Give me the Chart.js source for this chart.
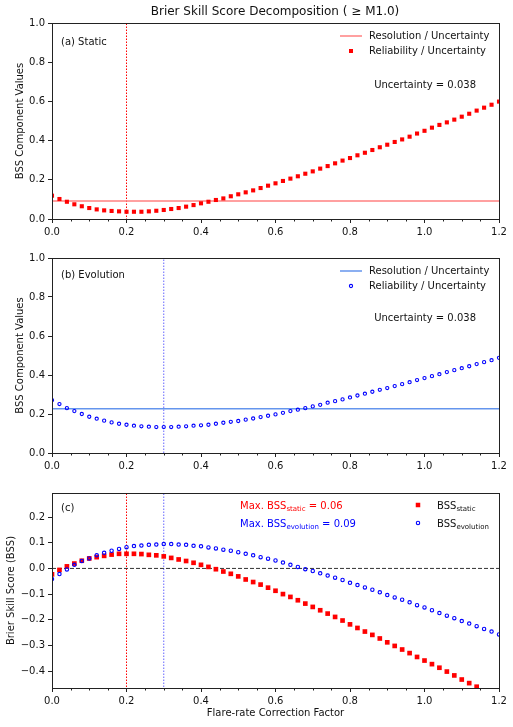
<!DOCTYPE html>
<html>
<head>
<meta charset="utf-8">
<title>Brier Skill Score Decomposition</title>
<script src="https://cdn.jsdelivr.net/npm/chart.js@4.4.1/dist/chart.umd.min.js"></script>
<style>
  body { margin: 0; background: #fff; }
  #wrap { position: relative; width: 513px; height: 727px; }
  canvas { position: absolute; left: 0; }
</style>
</head>
<body>
<div id="wrap">
  <canvas id="panelA" width="513" height="240" style="top:0px"></canvas>
  <canvas id="panelB" width="513" height="235" style="top:240px"></canvas>
  <canvas id="panelC" width="513" height="252" style="top:475px"></canvas>
</div>
<script>
// flare-rate correction factor (x)
var factor = [
  0.00, 0.02, 0.04, 0.06, 0.08, 0.10, 0.12, 0.14, 0.16, 0.18,
  0.20, 0.22, 0.24, 0.26, 0.28, 0.30, 0.32, 0.34, 0.36, 0.38,
  0.40, 0.42, 0.44, 0.46, 0.48, 0.50, 0.52, 0.54, 0.56, 0.58,
  0.60, 0.62, 0.64, 0.66, 0.68, 0.70, 0.72, 0.74, 0.76, 0.78,
  0.80, 0.82, 0.84, 0.86, 0.88, 0.90, 0.92, 0.94, 0.96, 0.98,
  1.00, 1.02, 1.04, 1.06, 1.08, 1.10, 1.12, 1.14, 1.16, 1.18,
  1.20
];

// reliability / uncertainty
var relStatic = [
  0.119, 0.102, 0.088, 0.075, 0.065, 0.056, 0.049, 0.044, 0.041, 0.039,
  0.037, 0.037, 0.037, 0.039, 0.042, 0.046, 0.051, 0.056, 0.063, 0.071,
  0.080, 0.088, 0.097, 0.105, 0.116, 0.126, 0.136, 0.146, 0.158, 0.170,
  0.182, 0.194, 0.206, 0.218, 0.231, 0.243, 0.257, 0.270, 0.284, 0.298,
  0.311, 0.325, 0.338, 0.352, 0.366, 0.379, 0.393, 0.406, 0.420, 0.436,
  0.450, 0.466, 0.480, 0.493, 0.507, 0.522, 0.537, 0.553, 0.568, 0.583,
  0.599
];
var relEvolution = [
  0.271, 0.251, 0.230, 0.215, 0.200, 0.186, 0.176, 0.166, 0.157, 0.150,
  0.145, 0.140, 0.137, 0.135, 0.133, 0.133, 0.133, 0.135, 0.137, 0.140,
  0.142, 0.145, 0.150, 0.155, 0.160, 0.164, 0.171, 0.177, 0.184, 0.191,
  0.198, 0.206, 0.215, 0.222, 0.230, 0.239, 0.247, 0.258, 0.266, 0.275,
  0.285, 0.295, 0.304, 0.314, 0.324, 0.333, 0.343, 0.353, 0.363, 0.374,
  0.384, 0.394, 0.404, 0.415, 0.425, 0.435, 0.445, 0.456, 0.466, 0.476,
  0.488
];

// resolution / uncertainty (constant)
var resStatic = 0.092;
var resEvolution = 0.227;

// brier skill score
var bssStatic = [
  -0.023, -0.006, 0.008, 0.019, 0.030, 0.039, 0.044, 0.049, 0.054, 0.057,
  0.057, 0.057, 0.056, 0.053, 0.051, 0.047, 0.041, 0.035, 0.029, 0.022,
  0.014, 0.006, -0.003, -0.012, -0.021, -0.031, -0.043, -0.053, -0.063, -0.075,
  -0.087, -0.100, -0.111, -0.124, -0.137, -0.150, -0.163, -0.176, -0.189, -0.203,
  -0.218, -0.232, -0.246, -0.259, -0.273, -0.288, -0.302, -0.316, -0.330, -0.345,
  -0.359, -0.373, -0.387, -0.402, -0.417, -0.433, -0.447, -0.461, -0.476, -0.491,
  -0.506
];
var bssEvolution = [
  -0.041, -0.022, -0.004, 0.014, 0.029, 0.039, 0.051, 0.061, 0.069, 0.076,
  0.083, 0.087, 0.089, 0.092, 0.093, 0.095, 0.095, 0.093, 0.092, 0.088,
  0.086, 0.082, 0.078, 0.073, 0.069, 0.063, 0.057, 0.051, 0.044, 0.038,
  0.031, 0.023, 0.014, 0.006, -0.003, -0.010, -0.019, -0.028, -0.036, -0.045,
  -0.056, -0.065, -0.074, -0.083, -0.093, -0.104, -0.113, -0.122, -0.132, -0.143,
  -0.152, -0.163, -0.174, -0.184, -0.194, -0.205, -0.215, -0.225, -0.236, -0.246,
  -0.257
];

var bestStatic = 0.2;
var bestEvolution = 0.3;
var maxBssStatic = '0.06';
var maxBssEvolution = '0.09';
var uncertainty = '0.038';

var xTicks = [0.0, 0.2, 0.4, 0.6, 0.8, 1.0, 1.2];
var yTicksComp = [0.0, 0.2, 0.4, 0.6, 0.8, 1.0];
var yTicksBss = [-0.4, -0.3, -0.2, -0.1, 0.0, 0.1, 0.2];

var FONT = '"DejaVu Sans", "Liberation Sans", sans-serif';

function pts(ys) {
  return factor.map(function(x, i) { return {x: x, y: ys[i]}; });
}
function hline(y) { return [{x: 0, y: y}, {x: 1.2, y: y}]; }
function vline(x) { return [{x: x, y: -1}, {x: x, y: 2}]; }

function fmt(v) {
  if (Math.abs(v) < 1e-9) v = 0;
  return v.toFixed(1).replace('-', '\u2212');
}

function axes(yMin, yMax, yTicks, yTitle, yTitlePad, xTitle, xHeight) {
  return {
    x: {
      type: 'linear', min: 0, max: 1.2,
      afterBuildTicks: function(s) { s.ticks = xTicks.map(function(v) { return {value: v}; }); },
      afterFit: function(s) { s.height = xHeight; },
      grid: {drawOnChartArea: false, tickLength: 4, color: '#222'},
      border: {display: false},
      ticks: {font: {family: FONT, size: 10}, color: '#111', padding: 3, maxRotation: 0, autoSkip: false, callback: fmt},
      title: {display: !!xTitle, text: xTitle || '', color: '#111', font: {family: FONT, size: 10}, padding: {top: 0, bottom: 8}}
    },
    y: {
      type: 'linear', min: yMin, max: yMax,
      afterBuildTicks: function(s) { s.ticks = yTicks.map(function(v) { return {value: v}; }); },
      afterFit: function(s) { s.width = 52; },
      grid: {drawOnChartArea: false, tickLength: 4, color: '#222'},
      border: {display: false},
      ticks: {font: {family: FONT, size: 10}, color: '#111', padding: 3, autoSkip: false, callback: fmt},
      title: {display: true, text: yTitle, color: '#111', font: {family: FONT, size: 10}, padding: {top: yTitlePad, bottom: 0}}
    }
  };
}

// frame + minor ticks, like matplotlib spines
var framePlugin = {
  id: 'frame',
  afterDraw: function(chart) {
    var ctx = chart.ctx, a = chart.chartArea, xs = chart.scales.x;
    ctx.save();
    ctx.strokeStyle = '#222';
    ctx.lineWidth = 1;
    for (var k = 1; k < 24; k++) {
      if (k % 4 === 0) continue;
      var px = Math.round(xs.getPixelForValue(k * 0.05)) + 0.5;
      ctx.beginPath();
      ctx.moveTo(px, a.bottom);
      ctx.lineTo(px, a.bottom + 2.5);
      ctx.stroke();
    }
    ctx.strokeRect(Math.round(a.left) + 0.5, Math.round(a.top) + 0.5,
      Math.round(a.right - a.left), Math.round(a.bottom - a.top));
    ctx.restore();
  }
};

function text(ctx, s, x, y, color, size, align) {
  ctx.font = (size || 10) + 'px ' + FONT;
  ctx.fillStyle = color || '#111';
  ctx.textAlign = align || 'left';
  ctx.textBaseline = 'middle';
  ctx.fillText(s, x, y);
}

// text with a subscript part: parts = [[str, isSub], ...]
function subText(ctx, parts, x, y, color) {
  ctx.fillStyle = color;
  ctx.textAlign = 'left';
  ctx.textBaseline = 'alphabetic';
  var base = y + 3.6;
  parts.forEach(function(p) {
    ctx.font = (p[1] ? 7 : 10) + 'px ' + FONT;
    ctx.fillText(p[0], x, p[1] ? base + 2.5 : base);
    x += ctx.measureText(p[0]).width;
  });
}

function square(ctx, x, y, s, color) {
  ctx.fillStyle = color;
  ctx.fillRect(x - s / 2, y - s / 2, s, s);
}
function ring(ctx, x, y, r, color) {
  ctx.strokeStyle = color;
  ctx.lineWidth = 1.1;
  ctx.beginPath();
  ctx.arc(x, y, r, 0, Math.PI * 2);
  ctx.stroke();
}

function compLegend(ctx, lineColor, marker, y0, yUnc) {
  ctx.save();
  ctx.strokeStyle = lineColor;
  ctx.lineWidth = 1.5;
  ctx.beginPath();
  ctx.moveTo(340, y0);
  ctx.lineTo(362, y0);
  ctx.stroke();
  text(ctx, 'Resolution / Uncertainty', 369, y0);
  marker(ctx, 351, y0 + 15);
  text(ctx, 'Reliability / Uncertainty', 369, y0 + 15);
  text(ctx, 'Uncertainty = ' + uncertainty, 476, yUnc, '#111', 10, 'right');
  ctx.restore();
}

var common = {
  responsive: false,
  animation: false,
  devicePixelRatio: 1,
  plugins: {legend: {display: false}, tooltip: {enabled: false}}
};

function opts(padTop, scales) {
  return Object.assign({}, common, {
    layout: {padding: {top: padTop, right: 14, left: 0, bottom: 0}},
    scales: scales
  });
}

// (a) Static
new Chart(document.getElementById('panelA'), {
  type: 'scatter',
  data: {
    datasets: [
      {data: pts(relStatic), pointStyle: 'rect', pointRadius: 2.9, pointBorderWidth: 0,
       pointBackgroundColor: 'red', clip: 0, order: 0},
      {data: hline(resStatic), showLine: true, borderColor: '#ff8080', borderWidth: 1.5,
       pointRadius: 0, clip: 0, order: 1},
      {data: vline(bestStatic), showLine: true, borderColor: 'red', borderWidth: 1,
       borderDash: [1.5, 1.5], pointRadius: 0, clip: 0, order: 2}
    ]
  },
  options: opts(23, axes(0, 1, yTicksComp, 'BSS Component Values', 14, null, 21)),
  plugins: [framePlugin, {
    id: 'textA',
    afterDraw: function(chart) {
      var ctx = chart.ctx;
      text(ctx, 'Brier Skill Score Decomposition ( \u2265 M1.0)', 275, 12, '#111', 12, 'center');
      text(ctx, '(a) Static', 61, 42);
      compLegend(ctx, '#ff8080', function(c, x, y) { square(c, x, y, 4, 'red'); }, 36, 85);
    }
  }]
});

// (b) Evolution
new Chart(document.getElementById('panelB'), {
  type: 'scatter',
  data: {
    datasets: [
      {data: pts(relEvolution), pointStyle: 'circle', pointRadius: 1.6, pointBorderWidth: 1.1,
       pointBorderColor: 'blue', pointBackgroundColor: 'rgba(0,0,0,0)', clip: 0, order: 0},
      {data: hline(resEvolution), showLine: true, borderColor: '#6495ed', borderWidth: 1.5,
       pointRadius: 0, clip: 0, order: 1},
      {data: vline(bestEvolution), showLine: true, borderColor: '#6666ff', borderWidth: 1,
       borderDash: [1.5, 1.5], pointRadius: 0, clip: 0, order: 2}
    ]
  },
  options: opts(18, axes(0, 1, yTicksComp, 'BSS Component Values', 14, null, 22)),
  plugins: [framePlugin, {
    id: 'textB',
    afterDraw: function(chart) {
      var ctx = chart.ctx;
      text(ctx, '(b) Evolution', 61, 35);
      compLegend(ctx, '#6495ed', function(c, x, y) { ring(c, x, y, 1.6, 'blue'); }, 31, 78);
    }
  }]
});

// (c) BSS
new Chart(document.getElementById('panelC'), {
  type: 'scatter',
  data: {
    datasets: [
      {data: pts(bssEvolution), pointStyle: 'circle', pointRadius: 1.7, pointBorderWidth: 1.1,
       pointBorderColor: 'blue', pointBackgroundColor: 'rgba(0,0,0,0)', clip: 0, order: 0},
      {data: pts(bssStatic), pointStyle: 'rect', pointRadius: 3.3, pointBorderWidth: 0,
       pointBackgroundColor: 'red', clip: 0, order: 1},
      {data: hline(0), showLine: true, borderColor: '#333', borderWidth: 1,
       borderDash: [4, 2], pointRadius: 0, clip: 0, order: 2},
      {data: vline(bestStatic), showLine: true, borderColor: 'red', borderWidth: 1,
       borderDash: [1.5, 1.5], pointRadius: 0, clip: 0, order: 3},
      {data: vline(bestEvolution), showLine: true, borderColor: '#6666ff', borderWidth: 1,
       borderDash: [1.5, 1.5], pointRadius: 0, clip: 0, order: 3}
    ]
  },
  options: opts(18, axes(-0.466, 0.294, yTicksBss, 'Brier Skill Score (BSS)', 5, 'Flare-rate Correction Factor', 39)),
  plugins: [framePlugin, {
    id: 'textC',
    afterDraw: function(chart) {
      var ctx = chart.ctx;
      ctx.save();
      text(ctx, '(c)', 61, 33);
      subText(ctx, [['Max. BSS', false], ['static', true], [' = ' + maxBssStatic, false]], 240, 30, 'red');
      subText(ctx, [['Max. BSS', false], ['evolution', true], [' = ' + maxBssEvolution, false]], 240, 48, 'blue');
      square(ctx, 418, 30, 4.5, 'red');
      subText(ctx, [['BSS', false], ['static', true]], 437, 30, '#111');
      ring(ctx, 418, 48, 1.7, 'blue');
      subText(ctx, [['BSS', false], ['evolution', true]], 437, 48, '#111');
      ctx.restore();
    }
  }]
});
</script>
</body>
</html>
